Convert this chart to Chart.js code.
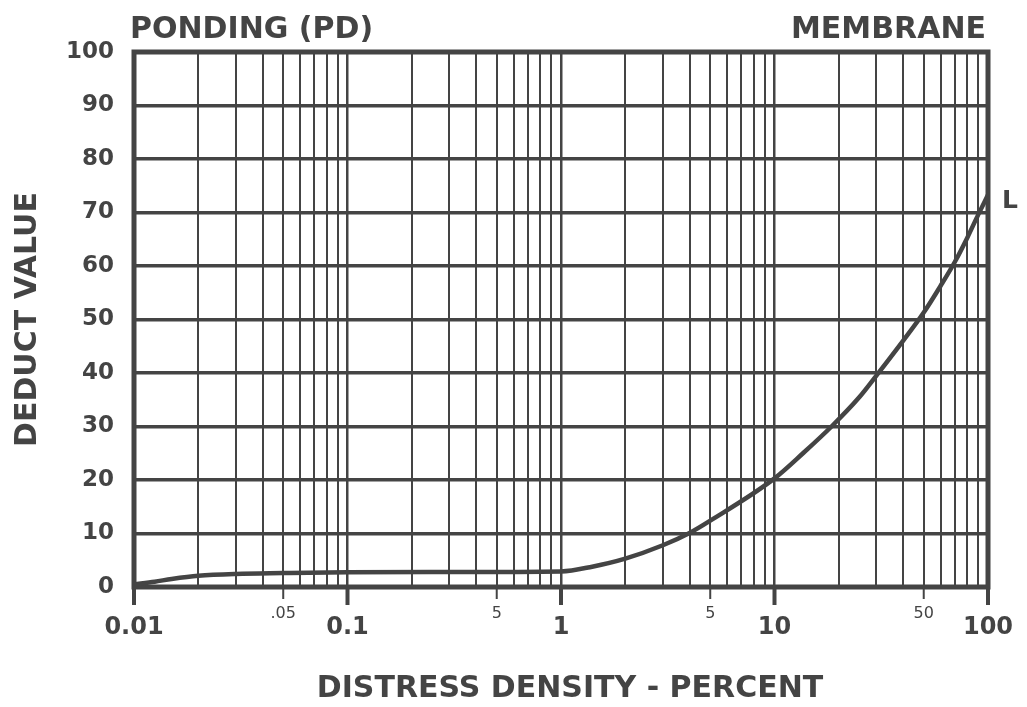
<!DOCTYPE html>
<html>
<head>
<meta charset="utf-8">
<title>Ponding (PD) - Membrane</title>
<script src="https://cdn.jsdelivr.net/npm/chart.js@4/dist/chart.umd.min.js"></script>
<style>
  html, body { margin: 0; padding: 0; background: #fff; }
  canvas { display: block; }
</style>
</head>
<body>
<canvas id="pd-chart" width="1027" height="707"></canvas>
<script>
// Curve L
const densityPct = [0.01, 0.0125, 0.015, 0.02, 0.03, 0.05, 0.1, 0.3, 1, 1.4, 2, 3, 4, 5, 10, 13.6, 18.5, 25, 30, 40, 50, 60, 70, 80, 90, 100];
const deductValue = [0.5, 1.0, 1.5, 2.1, 2.45, 2.6, 2.75, 2.8, 2.9, 3.8, 5.3, 7.8, 10.1, 12.4, 20.3, 25, 30, 35.5, 39.5, 46, 51.3, 56.3, 60.8, 65.3, 69.6, 73.3];

// Log paper lines
const gridX = [0.01, 0.02, 0.03, 0.04, 0.05, 0.06, 0.07, 0.08, 0.09,
               0.1, 0.2, 0.3, 0.4, 0.5, 0.6, 0.7, 0.8, 0.9,
               1, 2, 3, 4, 5, 6, 7, 8, 9,
               10, 20, 30, 40, 50, 60, 70, 80, 90, 100];
const majorX = [0.01, 0.1, 1, 10, 100];
const majorXLabels = ['0.01', '0.1', '1', '10', '100'];
const minorX = [0.05, 0.5, 5, 50];
const minorXLabels = ['.05', '5', '5', '50'];

const INK = '#444444';
const FONT = '"DejaVu Sans", sans-serif';

// Draws the frame, axis tick marks and all the lettering
const paperText = {
  id: 'paperText',
  beforeDatasetsDraw(chart) {
    const { ctx, chartArea: a, scales } = chart;
    const x = scales.x;
    ctx.save();
    ctx.strokeStyle = INK;
    ctx.lineWidth = 5;
    ctx.strokeRect(a.left, a.top, a.right - a.left, a.bottom - a.top);

    // ticks below the bottom edge
    ctx.lineCap = 'butt';
    majorX.forEach(v => {
      const px = x.getPixelForValue(v);
      ctx.lineWidth = 4;
      ctx.beginPath();
      ctx.moveTo(px, a.bottom);
      ctx.lineTo(px, a.bottom + 18);
      ctx.stroke();
    });
    minorX.forEach(v => {
      const px = x.getPixelForValue(v);
      ctx.lineWidth = 2;
      ctx.beginPath();
      ctx.moveTo(px, a.bottom);
      ctx.lineTo(px, a.bottom + 12);
      ctx.stroke();
    });
    ctx.restore();
  },
  afterDraw(chart) {
    const { ctx, chartArea: a, scales } = chart;
    const x = scales.x, y = scales.y;
    ctx.save();
    ctx.fillStyle = INK;

    // x tick labels
    ctx.textAlign = 'center';
    ctx.textBaseline = 'middle';
    ctx.font = 'bold 24px ' + FONT;
    majorX.forEach((v, i) => ctx.fillText(majorXLabels[i], x.getPixelForValue(v), 628));
    ctx.font = '16px ' + FONT;
    minorX.forEach((v, i) => ctx.fillText(minorXLabels[i], x.getPixelForValue(v), 614));

    // headings
    ctx.font = 'bold 30px ' + FONT;
    ctx.textBaseline = 'alphabetic';
    ctx.textAlign = 'left';
    ctx.fillText('PONDING (PD)', 130, 38);
    ctx.textAlign = 'right';
    ctx.fillText('MEMBRANE', 986, 38);

    // axis titles
    ctx.textAlign = 'center';
    ctx.fillText('DISTRESS DENSITY - PERCENT', 570, 697);

    ctx.save();
    ctx.translate(36, (a.top + a.bottom) / 2);
    ctx.rotate(-Math.PI / 2);
    ctx.fillText('DEDUCT VALUE', 0, 0);
    ctx.restore();

    // curve tag
    const last = deductValue.length - 1;
    ctx.font = 'bold 25px ' + FONT;
    ctx.textAlign = 'left';
    ctx.textBaseline = 'middle';
    ctx.fillText('L', a.right + 14, y.getPixelForValue(deductValue[last]) + 7);
    ctx.restore();
  }
};

new Chart(document.getElementById('pd-chart'), {
  type: 'line',
  data: {
    datasets: [{
      label: 'L',
      data: densityPct.map((d, i) => ({ x: d, y: deductValue[i] })),
      borderColor: INK,
      borderWidth: 4.5,
      pointRadius: 0,
      cubicInterpolationMode: 'monotone',
      fill: false
    }]
  },
  options: {
    responsive: false,
    animation: false,
    layout: { padding: { top: 52, right: 39, left: 0, bottom: 0 } },
    plugins: {
      legend: { display: false },
      tooltip: { enabled: false }
    },
    scales: {
      x: {
        type: 'logarithmic',
        min: 0.01,
        max: 100,
        afterBuildTicks: scale => { scale.ticks = gridX.map(v => ({ value: v })); },
        afterFit: scale => { scale.height = 120; },
        ticks: { display: false },
        border: { display: false },
        grid: {
          color: INK,
          lineWidth: c => (majorX.includes(c.tick && c.tick.value) ? 2.5 : 2),
          drawTicks: false
        }
      },
      y: {
        min: 0,
        max: 100,
        afterFit: scale => { scale.width = 134; },
        ticks: {
          stepSize: 5,
          padding: 20,
          color: INK,
          font: { family: FONT, size: 23, weight: 'bold' },
          callback: v => (v % 10 === 0 ? String(v) : '')
        },
        border: { display: false },
        grid: {
          color: INK,
          lineWidth: c => (c.tick && c.tick.value % 10 === 0 ? 3.5 : 2),
          drawTicks: false
        }
      }
    }
  },
  plugins: [paperText]
});
</script>
</body>
</html>
